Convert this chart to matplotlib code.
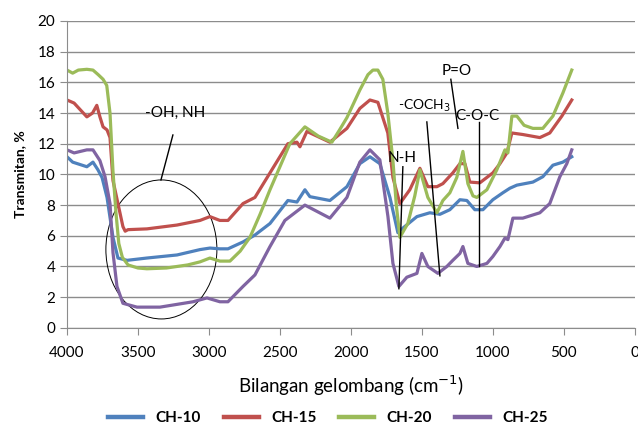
import matplotlib
matplotlib.use("Agg")
import matplotlib.pyplot as plt
from matplotlib.patches import Ellipse

plt.rcParams['font.family'] = ['Lato', 'DejaVu Sans']

# CH-10 (blue)
w10 = [4000, 3960, 3860, 3817, 3782, 3753, 3718, 3676, 3641, 3577, 3437, 3225, 3063, 2993,
       2923, 2866, 2760, 2676, 2570, 2444, 2380, 2324, 2289, 2148, 2028, 1937, 1866, 1796,
       1725, 1669, 1634, 1535, 1444, 1373, 1303, 1232, 1183, 1127, 1070, 1000, 930, 880,
       831, 718, 648, 577, 507, 444]
y10 = [11.15, 10.8, 10.5, 10.8, 10.3, 9.8, 8.5, 5.9, 4.55, 4.4, 4.55, 4.75, 5.1, 5.2,
       5.15, 5.15, 5.6, 6.05, 6.8, 8.3, 8.2, 9.0, 8.55, 8.3, 9.2, 10.7, 11.15, 10.7,
       8.5, 6.2, 6.5, 7.25, 7.5, 7.4, 7.7, 8.35, 8.3, 7.7, 7.7, 8.35, 8.8, 9.1,
       9.3, 9.5, 9.85, 10.6, 10.8, 11.15]

# CH-15 (red)
w15 = [4000, 3950, 3860, 3820, 3790, 3768, 3746, 3718, 3697, 3676, 3641, 3606, 3590, 3570,
       3437, 3225, 3063, 2993, 2923, 2866, 2760, 2676, 2570, 2444, 2380, 2359, 2310, 2148,
       2028, 1937, 1866, 1810, 1740, 1704, 1655, 1585, 1514, 1458, 1394, 1352, 1282, 1232,
       1197, 1162, 1092, 1000, 950, 901, 866, 789, 669, 599, 514, 444]
y15 = [14.85, 14.65, 13.75, 14.0, 14.5, 13.75, 13.1, 12.9, 12.4, 9.6, 8.1, 6.6, 6.3, 6.4,
       6.45, 6.7, 7.0, 7.25, 7.0, 7.0, 8.1, 8.5, 10.1, 12.0, 12.1, 11.8, 12.8, 12.1,
       13.0, 14.3, 14.85, 14.7, 12.7, 9.8, 8.1, 9.0, 10.4, 9.2, 9.2, 9.4, 10.1, 10.7,
       10.7, 9.5, 9.45, 10.1, 10.7, 11.4, 12.7, 12.6, 12.4, 12.7, 13.8, 14.85]

# CH-20 (green)
w20 = [4000, 3960, 3920, 3860, 3817, 3780, 3746, 3720, 3697, 3676, 3655, 3635, 3610, 3570,
       3500, 3437, 3300, 3150, 3063, 2993, 2923, 2852, 2780, 2711, 2640, 2570, 2500, 2430,
       2324, 2230, 2134, 2080, 2028, 1937, 1880, 1845, 1810, 1775, 1740, 1704, 1680, 1655,
       1599, 1550, 1514, 1458, 1394, 1352, 1303, 1254, 1211, 1176, 1140, 1113, 1042, 972,
       915, 894, 866, 831, 780, 718, 648, 577, 507, 444]
y20 = [16.8, 16.6, 16.8, 16.85, 16.8, 16.5, 16.2, 15.8, 14.0, 10.2, 7.5, 5.5, 4.6, 4.1,
       3.9, 3.85, 3.9, 4.1, 4.3, 4.55, 4.35, 4.35, 5.0, 5.9, 7.4, 9.0, 10.5, 12.0,
       13.1, 12.5, 12.1, 12.9, 13.7, 15.5, 16.5, 16.8, 16.8, 16.2, 14.0, 10.9, 8.0, 5.9,
       6.8, 8.6, 10.3, 8.5, 7.5, 8.3, 8.8, 9.8, 11.5, 9.4, 8.6, 8.5, 9.0, 10.3,
       11.6, 11.4, 13.8, 13.8, 13.2, 13.0, 13.0, 13.8, 15.3, 16.8]

# CH-25 (purple)
w25 = [4000, 3950, 3860, 3817, 3768, 3732, 3697, 3676, 3648, 3606, 3507, 3345, 3112, 3014,
       2923, 2866, 2760, 2676, 2570, 2465, 2324, 2148, 2028, 1937, 1866, 1796, 1739, 1704,
       1662, 1606, 1535, 1500, 1458, 1387, 1324, 1282, 1232, 1211, 1176, 1113, 1042, 1000,
       950, 915, 894, 859, 789, 669, 599, 528, 479, 444]
y25 = [11.6, 11.4, 11.6, 11.6, 10.9, 9.85, 8.1, 4.9, 2.7, 1.6, 1.35, 1.35, 1.7, 1.95,
       1.7, 1.7, 2.7, 3.45, 5.3, 7.0, 8.0, 7.15, 8.5, 10.8, 11.6, 10.95, 7.25, 4.2,
       2.7, 3.3, 3.55, 4.85, 4.0, 3.55, 4.0, 4.4, 4.85, 5.3, 4.2, 4.0, 4.2, 4.65,
       5.3, 5.85, 5.75, 7.15, 7.15, 7.5, 8.1, 9.85, 10.7, 11.6]

series = [("CH-10", w10, y10, "#4F81BD"),
          ("CH-15", w15, y15, "#C0504D"),
          ("CH-20", w20, y20, "#9BBB59"),
          ("CH-25", w25, y25, "#8064A2")]

fig = plt.figure(figsize=(6.38, 4.28), dpi=100)
ax = fig.add_axes([0.105, 0.234, 0.89, 0.717])

for name, w, y, c in series:
    ax.plot(w, y, color=c, lw=2.3, label=name, solid_joinstyle='round')

ax.set_xlim(4000, 0)
ax.set_ylim(0, 20)
ax.set_xticks(range(4000, -1, -500))
ax.set_yticks(range(0, 21, 2))
ax.yaxis.grid(True, color="#8C8C8C", lw=1)
ax.set_axisbelow(True)
for s in ["top", "right"]:
    ax.spines[s].set_visible(False)
for s in ["left", "bottom"]:
    ax.spines[s].set_color("#8C8C8C")
ax.tick_params(axis='both', colors="#8C8C8C", labelcolor="black", labelsize=11, length=5)
ax.tick_params(axis='x', pad=8)

ax.set_xlabel("Bilangan gelombang (cm$^{-1}$)", fontsize=13.5, labelpad=10)
ax.set_ylabel("Transmitan, %", fontsize=10, fontweight='bold', labelpad=8)

# annotations
ax.add_patch(Ellipse((3335, 5.11), 782, 9.06, fill=False, ec="black", lw=0.7))
ax.text(3239, 14.0, "-OH, NH", ha='center', va='center', fontsize=11)
ax.plot([3254, 3338], [12.57, 9.64], color='black', lw=1)

ax.text(1641, 11.07, "N-H", ha='center', va='center', fontsize=11)
ax.plot([1634, 1662], [10.5, 2.55], color='black', lw=1)

ax.text(1479, 14.46, "-COCH$_3$", ha='center', va='center', fontsize=10)
ax.plot([1465, 1373], [13.42, 3.39], color='black', lw=1)

ax.text(1254, 16.74, "P=O", ha='center', va='center', fontsize=11)
ax.plot([1296, 1246], [16.2, 13.0], color='black', lw=1)

ax.text(1106, 13.8, "C-O-C", ha='center', va='center', fontsize=11)
ax.plot([1099, 1099], [13.42, 4.04], color='black', lw=1)

leg = fig.legend(loc='center', bbox_to_anchor=(0.514, 0.023), ncol=4, frameon=False,
                 prop={'size': 11, 'weight': 'bold'}, handlelength=2.3, columnspacing=1.5,
                 handletextpad=0.8)
for l in leg.get_lines():
    l.set_linewidth(3.2)

fig.savefig("out.png", dpi=100)
